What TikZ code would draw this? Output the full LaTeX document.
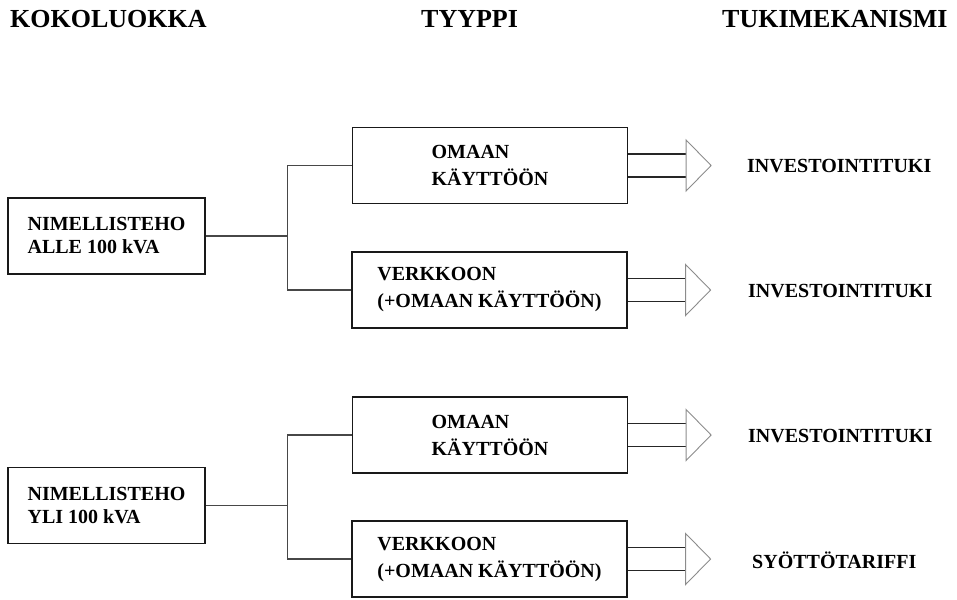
\documentclass[tikz,border=0pt]{standalone}
\usepackage{fontspec}
\setmainfont{Liberation Serif}
\begin{document}
\begin{tikzpicture}[x=1pt,y=-1pt,
  heading/.style={font=\fontsize{26}{30}\selectfont\bfseries, inner sep=0pt, anchor=base west},
  classbox/.style={draw=black!90, line width=1.2pt, minimum width=197pt, minimum height=76pt,
    align=left, font=\fontsize{20}{23}\selectfont\bfseries, inner sep=0pt},
  typebox/.style={draw=black!90, line width=1.2pt, minimum width=275pt, minimum height=76pt,
    align=left, font=\fontsize{20}{23}\selectfont\bfseries, inner sep=0pt},
  conn/.style={draw=black!72, line width=1.2pt},
  shaft/.style={draw=black!85, line width=1.1pt},
  head/.style={draw=black!45, line width=0.9pt, line join=miter},
  mech/.style={font=\fontsize{20}{23}\selectfont\bfseries, inner sep=0pt, anchor=base west}
]
\useasboundingbox (0,0) rectangle (957,599);

% column headings
\node[heading] (h1) at (10,28) {KOKOLUOKKA};
\node[heading] (h2) at (421,28) {TYYPPI};
\node[heading] (h3) at (722,28) {TUKIMEKANISMI};

% size classes
\node[classbox] (k1) at (106.5,236) {NIMELLISTEHO\\ALLE 100 kVA};
\node[classbox] (k2) at (106.5,505.5) {NIMELLISTEHO\\YLI 100 kVA};

% types
\node[typebox] (t1) at (490,165.5) {OMAAN\\[4pt]KÄYTTÖÖN};
\node[typebox] (t2) at (489.5,290) {VERKKOON\\[4pt](+OMAAN KÄYTTÖÖN)};
\node[typebox] (t3) at (490,435) {OMAAN\\[4pt]KÄYTTÖÖN};
\node[typebox] (t4) at (489.5,559) {VERKKOON\\[4pt](+OMAAN KÄYTTÖÖN)};

% support mechanisms
\node[mech] (m1) at (747,172.5) {INVESTOINTITUKI};
\node[mech] (m2) at (748,297) {INVESTOINTITUKI};
\node[mech] (m3) at (748,442) {INVESTOINTITUKI};
\node[mech] (m4) at (752,568) {SYÖTTÖTARIFFI};

% branching connectors
\path (k1.east) ++(82,0) coordinate (j1);
\path (k2.east) ++(82,0) coordinate (j2);
\draw[conn] (k1.east) -- (j1);
\draw[conn] (t1.west) -- (t1.west -| j1) -- (t2.west -| j1) -- (t2.west);
\draw[conn] (k2.east) -- (j2);
\draw[conn] (t3.west) -- (t3.west -| j2) -- (t4.west -| j2) -- (t4.west);

% hollow block arrows towards the mechanisms
% (shifts are in page direction: a positive yshift moves up)
\foreach \t in {t1,t2,t3,t4}{
  \draw[shaft] ([yshift=11.5]\t.east) -- ++(58,0);
  \draw[shaft] ([yshift=-11.5]\t.east) -- ++(58,0);
  \draw[head] ([xshift=58,yshift=25.5]\t.east) -- ++(25,25.5) -- ++(-25,25.5) -- cycle;
}
\end{tikzpicture}
\end{document}
